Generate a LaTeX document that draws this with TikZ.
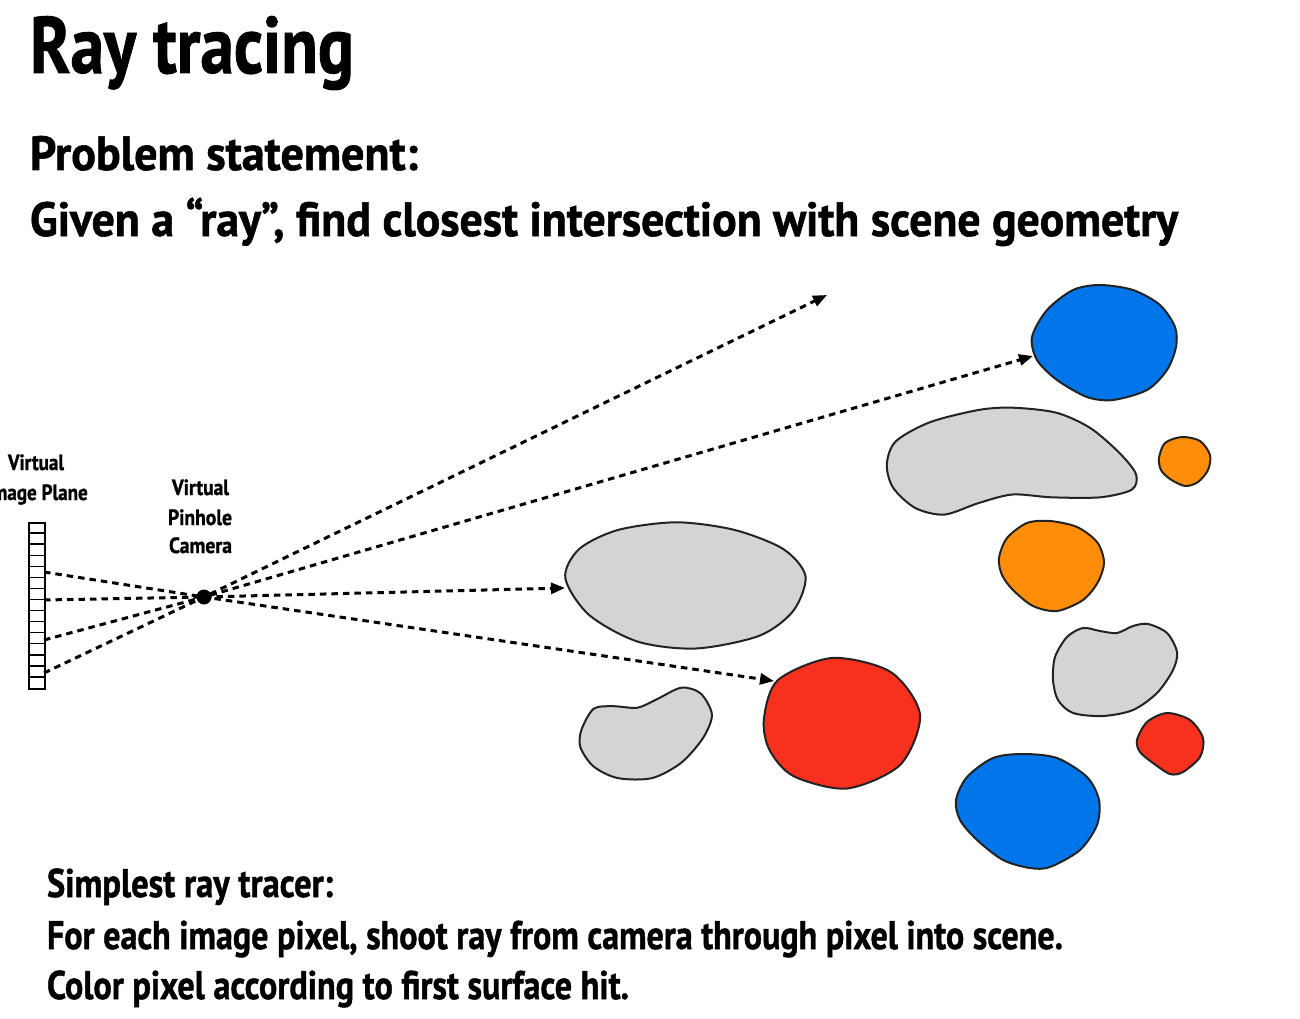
\documentclass[tikz,border=0pt]{standalone}
\usepackage{fontspec}
\setmainfont{PT Sans}[BoldFeatures={FakeBold=1.2}]
\usepackage{graphicx}
\usetikzlibrary{arrows.meta}
\definecolor{bblue}{RGB}{0,118,234}
\definecolor{borange}{RGB}{255,141,10}
\definecolor{bred}{RGB}{248,48,30}
\definecolor{bgray}{RGB}{212,212,212}
\definecolor{outl}{RGB}{35,35,35}
\newcommand\fitline[3]{\resizebox{#1pt}{\height}{\fontsize{#2}{#2}\selectfont\bfseries #3}}
\newlength\virtw
\tikzset{
  blob/.style={draw=outl, line width=2pt, line join=round},
  ray/.style={line width=3pt, dash pattern=on 6.5pt off 5pt, -{Triangle[length=14pt,width=11pt]}},
  txt/.style={anchor=base west, inner sep=0pt, outer sep=0pt},
  lab/.style={anchor=base, inner sep=0pt, outer sep=0pt},
}
\begin{document}
\settowidth\virtw{\fontsize{22}{22}\selectfont\bfseries Virtual}%
\pgfmathsetmacro\labfac{56/\virtw}%
\begin{tikzpicture}[x=1pt,y=-1pt]
\useasboundingbox (0,0) rectangle (1300,1019);
\fill[white] (0,0) rectangle (1300,1019);
\clip (0,0) rectangle (1300,1019);

% ---- texts
\node[txt] (title) at (30,73) {\fitline{324}{80}{Ray tracing}};
\node[txt] (prob) at (30,170) {\fitline{388}{48}{Problem statement:}};
\node[txt] (given) at (30,236) {\fitline{1148}{48}{Given a “ray”, find closest intersection with scene geometry}};
\node[txt] (simp) at (47,897) {\fitline{286}{40}{Simplest ray tracer:}};
\node[txt] (each) at (47,949) {\fitline{1016}{40}{For each image pixel, shoot ray from camera through pixel into scene.}};
\node[txt] (colr) at (47,999) {\fitline{582}{40}{Color pixel according to first surface hit.}};

\node[lab] (cv) at (200.5,495) {\fitline{57}{22}{Virtual}};
\node[lab] (cp) at (200,525) {\fitline{64}{22}{Pinhole}};
\node[lab] (cc) at (200.5,553) {\fitline{63}{22}{Camera}};
\node[lab] (iv) at (36,470) {\fitline{56}{22}{Virtual}};
\node[anchor=base east, inner sep=0pt] (ip) at (88,500) {\scalebox{\labfac}[1]{\fontsize{22}{22}\selectfont\bfseries Image Plane}};

% ---- image plane
\node[draw, line width=1.8pt, minimum width=16pt, minimum height=166pt, inner sep=0pt, anchor=north west] (plane) at (28,522) {};
\foreach \i in {1,...,14} \draw[line width=1.4pt] (28,{522+\i*166/15}) -- (44,{522+\i*166/15});

% ---- scene objects
% blue top
\draw[blob, fill=bblue] plot[smooth cycle] coordinates {(1032,337) (1047,310) (1073,290) (1100,285) (1133,290) (1160,305) (1175,327) (1176,347) (1167,370) (1147,390) (1113,400) (1087,397) (1057,380) (1037,360)};
% gray bean top
\draw[blob, fill=bgray] plot[smooth cycle] coordinates {(886.8,464.6) (895.6,441.5) (929.7,422.3) (978.4,410) (1012.5,407.7) (1056.3,412.7) (1090.4,428.1) (1119.6,453.1) (1136,474.2) (1131.8,489.6) (1100.2,497.3) (1051.4,497.3) (1012.5,494.5) (978.4,503.1) (944.3,514.6) (915.1,507.9) (893.1,487.7)};
% small orange
\draw[blob, fill=borange] plot[smooth cycle] coordinates {(1159,458) (1165,443) (1182,437) (1200,441) (1210,455) (1208,470) (1198,482) (1185,486) (1170,479) (1161,470)};
% big gray ellipse
\draw[blob, fill=bgray] plot[smooth cycle] coordinates {(565.3,578.1) (579,549.2) (617.9,530) (676.4,522.3) (734.8,530) (783.5,549.2) (805.5,576.2) (793.3,610.8) (759.2,635.8) (695.9,648.5) (637.4,641.5) (588.7,614.6)};
% orange middle
\draw[blob, fill=borange] plot[smooth cycle] coordinates {(999,558) (1007,538) (1027,523) (1050,521) (1077,527) (1097,542) (1104,562) (1098,582) (1083,600) (1057,611) (1033,606) (1013,590) (1002,575)};
% gray right blob
\draw[blob, fill=bgray] plot[smooth cycle] coordinates {(1053,680) (1055,657) (1067,637) (1083,628) (1100,631) (1117,633) (1133,626) (1148,624) (1167,633) (1177,652) (1173,670) (1157,693) (1133,710) (1103,716) (1073,713) (1058,700)};
% small red
\draw[blob, fill=bred] plot[smooth cycle] coordinates {(1137,740) (1147,722) (1167,713) (1190,720) (1203,738) (1200,757) (1183,772) (1170,774) (1153,763) (1140,752)};
% big blue bottom
\draw[blob, fill=bblue] plot[smooth cycle] coordinates {(956,800) (967,777) (993,758) (1023,754) (1057,758) (1087,777) (1099,800) (1097,825) (1080,850) (1050,867) (1030,868) (1003,860) (977,840) (960,820)};
% big red
\draw[blob, fill=bred] plot[smooth cycle] coordinates {(764,718) (778,680) (832,658) (890.7,672) (920,714.6) (900.4,764.6) (846.9,788.5) (793.3,776) (769,749)};
% small gray left
\draw[blob, fill=bgray] plot[smooth cycle] coordinates {(581.4,730) (593.6,708.8) (613.1,706.2) (637.4,707.7) (656.9,699.2) (681.3,687.7) (700.7,693.5) (711.9,714.6) (703.2,737.7) (681.3,762.7) (652,778.1) (617.9,778.1) (593.6,766.5) (580.4,747.3)};

% ---- rays
\coordinate (cam) at (204,597);
\coordinate (p1) at (44,572);
\coordinate (p2) at (44,600);
\coordinate (p3) at (44,640);
\coordinate (p4) at (44,673);
\coordinate (tA) at (827,295);
\coordinate (tB) at (1033,356);
\coordinate (tC) at (565,588);
\coordinate (tD) at (774,681);
\draw[ray] (p4) -- (cam) -- (tA);
\draw[ray] (p3) -- (cam) -- (tB);
\draw[ray] (p2) -- (cam) -- (tC);
\draw[ray] (p1) -- (cam) -- (tD);
\node[circle, fill=black, minimum size=15pt, inner sep=0pt] (camdot) at (cam) {};
\end{tikzpicture}
\end{document}
